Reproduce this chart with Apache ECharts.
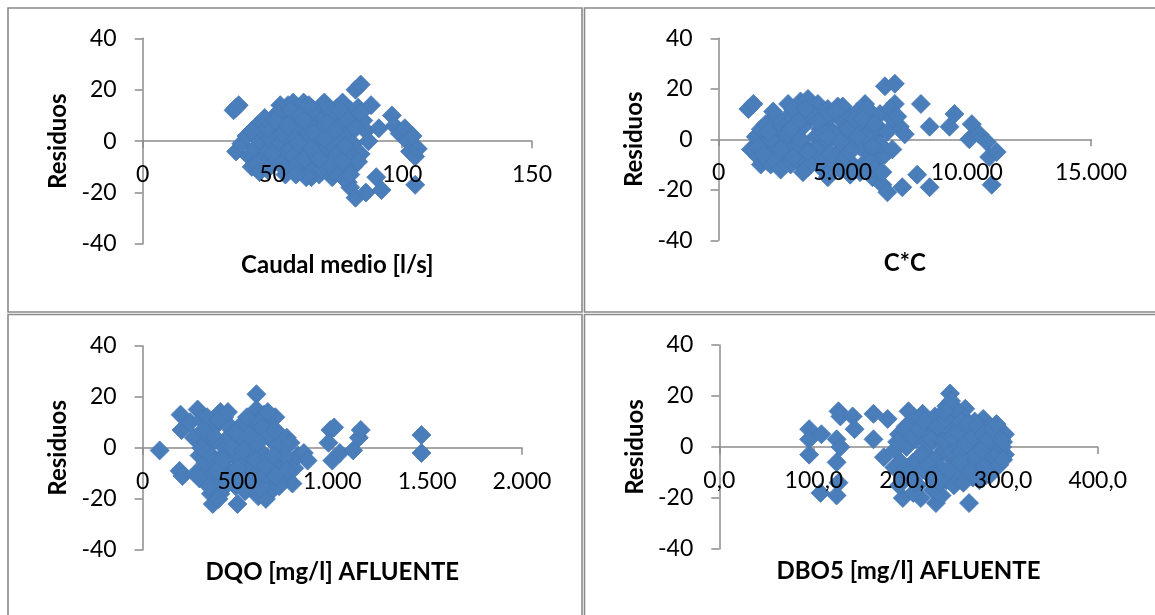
<!DOCTYPE html>
<html>
<head>
<meta charset="utf-8">
<script src="https://cdn.jsdelivr.net/npm/echarts/dist/echarts.min.js"></script>
<style>
html,body{margin:0;padding:0;background:#fff;}
#c{width:1155px;height:615px;}
</style>
</head>
<body>
<div id="c"></div>
<script>
// Tick labels
const yTicks = ['-40', '-20', '0', '20', '40'];
const xTicks1 = ['0', '50', '100', '150'];
const xTicks2 = ['0', '5.000', '10.000', '15.000'];
const xTicks3 = ['0', '500', '1.000', '1.500', '2.000'];
const xTicks4 = ['0,0', '100,0', '200,0', '300,0', '400,0'];

// Axis titles
const yName = 'Residuos';
const xName1 = 'Caudal medio [l/s]';
const xName2 = 'C*C';
const xName3 = 'DQO [mg/l] AFLUENTE';
const xName4 = 'DBO5 [mg/l] AFLUENTE';

// Panel 1: Caudal medio
const caudalX = [35,37,36,36,38,40,41,42,43,44,45,46,47,48,49,50,51,52,53,53,54,55,55,56,56,57,57,58,58,59,59,60,60,61,61,62,62,63,63,64,64,65,65,66,66,67,67,68,68,69,69,70,70,71,71,72,72,73,73,74,74,75,75,76,76,77,77,78,78,79,79,80,80,81,81,82,80,83,84,84,85,82,86,86,87,88,90,92,91,96,97,99,101,102,103,104,105,105,106,74,78,58,52,48,66,70,62,44,
  42,45,47,50,51,54,55,57,58,60,61,63,64,66,67,69,70,72,73,75,76,78,79,81,82,83,84,65,71,77,53,48,56,59,62,68,74,80];
const caudalRes = [12,14,13,-4,-1,2,-6,-10,-3,6,0,-7,3,-4,1,-9,4,-2,14,7,-6,2,10,-11,14,5,-3,15,9,-8,1,12,-12,6,-4,15,0,-10,9,3,-6,13,-14,7,-1,11,-9,2,-13,14,5,-4,9,-11,0,12,4,-7,-14,8,-2,13,1,-9,6,15,-4,10,-12,3,-16,12,-6,7,-1,20,-18,13,22,-5,8,-22,4,-20,0,14,-14,-19,5,10,6,3,5,0,-4,2,-6,-17,-3,-12,-15,-6,11,5,-11,15,-7,-9,
  4,-12,9,-5,8,3,-13,12,-10,-1,10,-14,14,3,-6,-11,1,-9,11,-5,12,-2,8,-10,5,-8,11,-3,7,-8,-9,-11,6,-13,8,-7,4,-13];

// Panel 2: C*C
const ccX = [1200,1400,1300,1500,1600,1700,1800,1900,2000,2100,2200,2300,2400,2500,2600,2700,2800,2900,3000,3100,3200,3300,3400,3500,3600,3700,3800,3900,4000,4100,4200,4300,4400,4500,4600,4700,4800,4900,5000,5100,5200,5300,5400,5500,5600,5700,5800,5900,6000,6100,6200,6300,6400,6500,6600,6700,6800,7100,7100,7300,7500,7400,8000,8150,8500,8500,9300,9500,10100,10200,10500,10800,10900,11200,11000,2000,2600,3300,4000,4500,5000,5800,6200,3000,3800,2400,1700,6900,7000,5300,4400,3600,2900,6700,5600,4800,4200,
  1600,1900,2200,2300,2700,2800,3100,3200,3500,3700,4100,4300,4600,4700,5100,5200,5500,5700,6000,6100,6400,6500,6800,3400,2500,4900,5900,4000,3000,2100,1800,5400,6300,7200,7000,6600,
  2000,2500,2900,3300,3900,4400,4900,5300,5800,6300,2200,3600,4500,5600,6200];
const ccRes = [12,14,-4,1,-7,-10,3,-2,6,-10,-5,1,-8,4,-1,8,14,-6,2,11,-9,15,5,-3,16,9,-7,1,14,-11,6,-2,12,-13,3,-6,13,8,-4,1,10,-9,5,-1,11,-13,3,14,-5,7,-15,1,-8,10,-18,21,-21,22,14,5,2,-19,-14,14,5,-19,5,10,0,6,2,-1,-7,-5,-18,-9,-10,-8,-4,9,13,-10,4,12,10,7,4,12,8,-14,-15,-11,-10,-6,6,2,-8,
  -3,6,-8,9,-4,2,-3,7,12,-10,4,9,-9,11,-7,4,8,-3,12,-9,5,-2,3,-13,-12,-12,1,7,-7,0,-6,-11,-12,9,-4,-13,
  3,-4,4,0,-4,1,-1,-5,8,6,11,-5,-6,1,-3];

// Panel 3: DQO afluente
const dqoX = [90,200,205,195,210,250,270,290,300,310,320,330,340,350,360,370,380,390,400,410,420,430,440,450,460,470,480,490,500,510,520,530,540,550,560,570,580,590,600,600,610,620,630,640,650,660,670,680,690,700,710,720,740,760,770,790,800,820,850,870,990,1010,980,1000,1040,1110,1140,1150,1470,1470,330,360,420,440,480,540,560,600,620,660,680,710,750,300,380,460,520,575,640,410,730,280,
  340,350,370,390,400,430,450,470,490,510,530,550,570,590,610,630,650,670,690,700,720,760,780,310,320,450,500,560,660,700,620,540,350,400];
const dqoRes = [-1,13,7,-9,-11,10,4,15,-3,11,-8,2,-12,6,-18,-22,-15,9,-5,14,1,12,-8,4,-2,7,-10,-15,-22,2,-6,5,-12,8,-3,0,11,-8,21,15,-19,6,-2,13,-20,9,-12,3,-16,12,-7,5,-10,4,-6,-14,-8,-3,-2,-5,7,8,2,-5,-2,-1,4,7,5,-2,-6,8,-11,10,-3,3,-9,-5,10,-4,-9,1,-3,-12,3,-13,9,-14,-11,-18,-12,-10,
  12,-2,5,-9,11,-5,-14,0,6,-11,-1,12,-12,4,2,8,-7,5,-3,7,-15,-9,2,0,7,14,-8,5,14,-11,-16,-17,-15,-20];

// Panel 4: DBO5 afluente
const dboX = [95,95,95,108,107,124,126,126,128,124,128,124,141,143,163,178,163,174,186,194,200,215,225,213,229,244,240,260,264,260,279,302,302,185,190,195,198,202,205,208,210,212,216,218,220,222,226,228,230,232,234,236,238,240,242,245,247,249,251,253,255,257,259,262,265,267,270,272,274,276,278,280,283,285,287,290,292,294,297,299,282,268,250,235,205,190,215,225,295,288,
  188,192,197,200,204,207,211,214,217,221,224,227,231,233,237,239,243,246,248,252,254,256,258,261,263,266,269,271,273,275,277,279,281,284,286,289,291,293,296,298,300,300,245,238];
const dboRes = [7,3,-3,5,-18,-19,-14,14,12,3,0,-6,12,7,13,11,3,-4,-1,-20,14,13,8,-20,-22,21,16,15,-22,-12,11,5,-3,-8,5,-12,0,9,-6,3,-15,11,-2,6,-10,1,-17,12,-4,4,-8,9,-1,-13,6,13,-5,2,-10,9,-2,12,4,-7,7,-1,10,-5,3,-9,6,0,-6,8,-3,2,-8,4,-1,0,-11,-12,15,-19,-18,-15,-9,-12,-5,5,
  2,-6,8,-10,4,-14,7,-3,10,-7,3,-11,8,-14,2,11,-9,4,-15,6,-6,10,-14,1,9,-10,4,-3,8,-13,-1,5,-8,3,-11,7,-4,9,-7,3,-5,2,18,14];

const zip = (xs, ys) => xs.map((x, i) => [x, ys[i]]);

const FONT = 'Lato';
const axisGray = '#8c8c8c';
const markColor = '#4A7EBB';

const grids = [
  {left: 142.7, top: 38.3, width: 389.3, height: 205.7},
  {left: 718.6, top: 38.3, width: 372.4, height: 202},
  {left: 142.6, top: 345.7, width: 379.4, height: 204.3},
  {left: 719.3, top: 345, width: 378.4, height: 204}
].map(g => Object.assign({outerBoundsMode: 'none', containLabel: false}, g));

const xSpecs = [
  {max: 150, interval: 50, ticks: xTicks1, name: xName1},
  {max: 15000, interval: 5000, ticks: xTicks2, name: xName2},
  {max: 2000, interval: 500, ticks: xTicks3, name: xName3},
  {max: 400, interval: 100, ticks: xTicks4, name: xName4}
];

// Line + ticks axes (under the markers)
const xLineAxes = xSpecs.map((s, i) => ({
  type: 'value', gridIndex: i, min: 0, max: s.max, interval: s.interval,
  position: 'bottom', offset: -grids[i].height / 2, z: 0,
  axisLine: {onZero: false, lineStyle: {color: axisGray, width: 1.5}},
  axisTick: {show: true, length: 7, lineStyle: {color: axisGray, width: 1.5}},
  axisLabel: {show: false},
  splitLine: {show: false}
}));

// Label + name axes (over the markers)
const xLabelAxes = xSpecs.map((s, i) => ({
  type: 'value', gridIndex: i, min: 0, max: s.max, interval: s.interval,
  position: 'bottom', offset: -grids[i].height / 2, z: 10,
  name: s.name, nameLocation: 'middle', nameGap: 112,
  nameTextStyle: {fontFamily: FONT, fontSize: 24, fontWeight: 'bold', color: '#000'},
  axisLine: {show: false, onZero: false},
  axisTick: {show: false},
  axisLabel: {margin: 22, fontFamily: FONT, fontSize: 23, color: '#000',
    formatter: v => s.ticks[Math.round(v / s.interval)]},
  splitLine: {show: false}
}));

const yAxes = grids.map((g, i) => ({
  type: 'value', gridIndex: i, min: -40, max: 40, interval: 20,
  name: yName, nameLocation: 'middle', nameGap: 72, nameRotate: 90,
  nameTextStyle: {fontFamily: FONT, fontSize: 24, fontWeight: 'bold', color: '#000'},
  axisLine: {show: true, onZero: false, lineStyle: {color: axisGray, width: 1.5}},
  axisTick: {show: true, length: 8, lineStyle: {color: axisGray, width: 1.5}},
  axisLabel: {margin: 26, fontFamily: FONT, fontSize: 23, color: '#000',
    formatter: v => yTicks[Math.round((v + 40) / 20)]},
  splitLine: {show: false}
}));

const datasets = [zip(caudalX, caudalRes), zip(ccX, ccRes), zip(dqoX, dqoRes), zip(dboX, dboRes)];

const series = datasets.map((d, i) => ({
  type: 'scatter', xAxisIndex: i, yAxisIndex: i, data: d,
  symbol: 'diamond', symbolSize: 19, z: 2,
  itemStyle: {color: markColor, borderColor: '#4677B5', borderWidth: 0.8, opacity: 1},
  silent: true, animation: false
}));

const borderStyle = {fill: 'none', stroke: '#8a8a8a', lineWidth: 1.6};
const graphic = [
  {type: 'rect', shape: {x: 8, y: 8, width: 574, height: 304}, style: borderStyle, silent: true},
  {type: 'rect', shape: {x: 584.5, y: 8, width: 600, height: 304}, style: borderStyle, silent: true},
  {type: 'rect', shape: {x: 8, y: 314.5, width: 574, height: 320}, style: borderStyle, silent: true},
  {type: 'rect', shape: {x: 584.5, y: 314.5, width: 600, height: 320}, style: borderStyle, silent: true}
];

const chart = echarts.init(document.getElementById('c'), null, {renderer: 'canvas'});
chart.setOption({
  backgroundColor: '#ffffff',
  animation: false,
  grid: grids,
  xAxis: xLineAxes.concat(xLabelAxes),
  yAxis: yAxes,
  series: series,
  graphic: graphic
});
</script>
</body>
</html>
